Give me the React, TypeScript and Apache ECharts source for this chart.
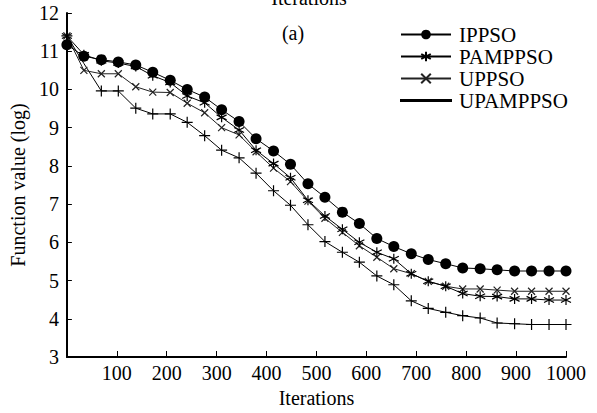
import React, { useEffect, useRef } from "react";
import * as echarts from "echarts";

const iterations = [0, 34, 69, 103, 138, 172, 207, 241, 276, 310, 345, 379, 414, 448, 483, 517, 552, 586, 621, 655, 690, 724, 759, 793, 828, 862, 897, 931, 966, 1000];
const ippso = [11.17, 10.87, 10.78, 10.72, 10.64, 10.45, 10.24, 10.0, 9.8, 9.47, 9.16, 8.71, 8.39, 8.04, 7.53, 7.18, 6.79, 6.49, 6.1, 5.89, 5.7, 5.55, 5.44, 5.33, 5.31, 5.28, 5.25, 5.25, 5.25, 5.25];
const pamppso = [11.4, 10.91, 10.75, 10.69, 10.6, 10.36, 10.18, 9.83, 9.65, 9.27, 8.94, 8.41, 8.06, 7.69, 7.1, 6.69, 6.34, 6.0, 5.74, 5.57, 5.18, 4.98, 4.85, 4.66, 4.59, 4.58, 4.52, 4.52, 4.49, 4.49];
const uppso = [11.4, 10.5, 10.41, 10.41, 10.07, 9.93, 9.92, 9.64, 9.39, 9.0, 8.81, 8.37, 7.94, 7.59, 7.08, 6.63, 6.26, 5.91, 5.61, 5.31, 5.18, 4.98, 4.85, 4.78, 4.78, 4.75, 4.72, 4.72, 4.72, 4.72];
const upamppso = [11.4, 10.68, 9.96, 9.96, 9.51, 9.36, 9.36, 9.14, 8.79, 8.41, 8.21, 7.81, 7.35, 6.97, 6.46, 6.02, 5.74, 5.48, 5.12, 4.89, 4.47, 4.27, 4.17, 4.08, 4.02, 3.89, 3.87, 3.85, 3.85, 3.85];
const seriesNames = ["IPPSO", "PAMPPSO", "UPPSO", "UPAMPPSO"];
const hiddenMarkerIndex = 1;

const FONT = "Liberation Serif";
const STAR = "path://M0,-5L0,5M-4.33,-2.5L4.33,2.5M-4.33,2.5L4.33,-2.5";
const CROSS = "path://M-1,-1L1,1M-1,1L1,-1";
const PLUS = "path://M0,-1L0,1M-1,0L1,0";
const PLAIN_LINE = "path://M0,0L50,0L50,1.2L0,1.2Z";

function pairs(vals: number[]) {
  return vals.map((v, i) => [iterations[i], v]);
}

export default function App() {
  const ref = useRef<HTMLDivElement>(null);
  useEffect(() => {
    if (!ref.current) return;
    const chart = echarts.init(ref.current, undefined, { renderer: "svg" });
    const strokeStyle = (c: string) => ({ color: c, borderColor: c, borderWidth: 1.2 });
    chart.setOption({
      animation: false,
      backgroundColor: "#fff",
      textStyle: { fontFamily: FONT, color: "#000" },
      grid: { left: 60, right: 31, top: 13, bottom: 52 },
      legend: {
        orient: "vertical",
        left: 395,
        top: 19,
        itemWidth: 50,
        itemHeight: 12,
        itemGap: 1,
        data: seriesNames.map((n) => (n === "UPAMPPSO" ? { name: n, icon: PLAIN_LINE } : n)),
        textStyle: { fontFamily: FONT, fontSize: 21, color: "#000", lineHeight: 20, padding: [0, 0, 0, 3] },
      },
      graphic: [
        { type: "text", x: 309, y: -2, style: { text: "Iterations", font: `20px ${FONT}`, fill: "#000", align: "center", verticalAlign: "middle" } },
        { type: "text", x: 293, y: 33, style: { text: "(a)", font: `20px ${FONT}`, fill: "#000", align: "center", verticalAlign: "middle" } },
      ],
      xAxis: {
        type: "value",
        min: 0,
        max: 1000,
        interval: 100,
        name: "Iterations",
        nameLocation: "middle",
        nameGap: 31,
        nameTextStyle: { fontFamily: FONT, fontSize: 20, color: "#000" },
        axisLine: { lineStyle: { color: "#000", width: 2 } },
        axisTick: { inside: true, length: 6, lineStyle: { color: "#000", width: 1 } },
        axisLabel: { showMinLabel: false, fontFamily: FONT, fontSize: 20, color: "#000", margin: 6, formatter: (v: number) => String(v) },
        splitLine: { show: false },
      },
      yAxis: {
        type: "value",
        min: 3,
        max: 12,
        interval: 1,
        name: "Function value (log)",
        nameLocation: "middle",
        nameGap: 36,
        nameTextStyle: { fontFamily: FONT, fontSize: 20, color: "#000" },
        axisLine: { show: true, lineStyle: { color: "#000", width: 2 } },
        axisTick: { show: true, inside: true, length: 5, lineStyle: { color: "#000", width: 1 } },
        axisLabel: { fontFamily: FONT, fontSize: 20, color: "#000", margin: 8 },
        splitLine: { show: false },
      },
      series: [
        {
          name: "UPAMPPSO",
          type: "line",
          data: pairs(upamppso).map((p, i) => (i === hiddenMarkerIndex ? { value: p, symbol: "none" } : p)),
          symbol: PLUS,
          symbolSize: 11,
          lineStyle: { color: "#000", width: 1 },
          itemStyle: strokeStyle("#000"),
          z: 2,
        },
        {
          name: "UPPSO",
          type: "line",
          data: pairs(uppso),
          symbol: CROSS,
          symbolSize: 7,
          lineStyle: { color: "#222", width: 1 },
          itemStyle: strokeStyle("#222"),
          z: 3,
        },
        {
          name: "PAMPPSO",
          type: "line",
          data: pairs(pamppso),
          symbol: STAR,
          symbolSize: 10,
          lineStyle: { color: "#000", width: 1 },
          itemStyle: strokeStyle("#000"),
          z: 4,
        },
        {
          name: "IPPSO",
          type: "line",
          data: pairs(ippso),
          symbol: "circle",
          symbolSize: 11,
          lineStyle: { color: "#000", width: 1 },
          itemStyle: { color: "#000" },
          z: 5,
        },
      ],
    });
    return () => chart.dispose();
  }, []);
  return <div ref={ref} style={{ position: "fixed", left: 0, top: 0, width: 597, height: 413, background: "#fff" }} />;
}
